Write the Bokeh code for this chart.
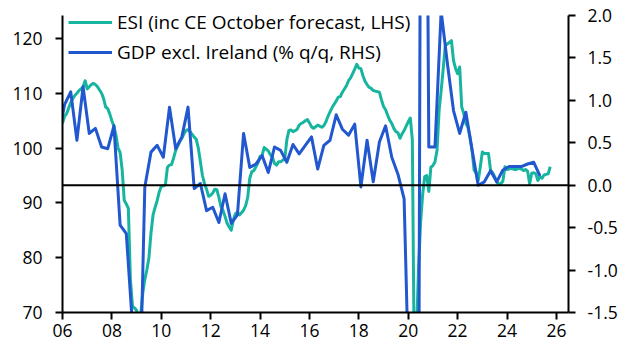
from bokeh.plotting import figure
from bokeh.models import (Range1d, LinearAxis, FixedTicker, Span, Legend,
                          LegendItem, NumeralTickFormatter, ColumnDataSource)
from bokeh.embed import file_html
from bokeh.resources import INLINE

# ---------------- data ----------------
# Economic Sentiment Indicator, monthly from Jan 2006 to Oct 2025 (LHS)
esi = [
    104.5, 105.8, 106.3, 107.3, 108.3, 109.0, 109.6, 110.0, 110.5, 110.8, 111.2, 112.3,  # 2006
    110.8, 111.2, 111.6, 111.8, 111.6, 111.2, 110.6, 110.0, 109.0, 107.5, 107.2, 106.2,  # 2007
    105.0, 104.0, 102.3, 100.0, 99.2, 96.0, 90.5, 89.8, 89.0, 76.0, 71.2, 70.8,          # 2008
    70.4, 69.0, 69.6, 73.5, 76.0, 77.8, 80.0, 84.5, 87.8, 89.2, 90.4, 92.0,              # 2009
    93.0, 93.1, 93.3, 96.5, 96.9, 97.0, 98.2, 99.6, 100.4, 101.2, 101.8, 102.6,          # 2010
    103.2, 103.4, 103.0, 102.5, 102.0, 101.6, 100.0, 97.5, 95.0, 93.5, 92.5, 91.2,       # 2011
    91.4, 91.8, 92.5, 92.4, 91.0, 89.3, 88.6, 87.5, 86.3, 85.6, 85.0, 86.9,              # 2012
    88.0, 88.3, 87.8, 88.2, 88.7, 89.5, 91.0, 94.5, 95.7, 95.9, 96.6, 97.3,              # 2013
    98.5, 98.7, 100.1, 99.8, 99.5, 98.8, 98.4, 97.2, 96.9, 97.5, 97.5, 97.8,             # 2014
    98.0, 101.5, 103.2, 103.3, 103.0, 103.2, 103.4, 104.2, 104.5, 104.7, 105.0, 105.2,   # 2015
    104.6, 103.9, 103.6, 103.9, 104.2, 104.0, 103.8, 104.1, 104.8, 105.8, 106.6, 107.4,  # 2016
    108.0, 108.6, 109.3, 109.4, 110.2, 110.8, 111.4, 112.3, 112.8, 113.6, 114.4, 115.3,  # 2017
    114.6, 114.5, 113.2, 112.2, 111.6, 111.1, 110.9, 110.5, 110.4, 110.3, 110.2, 108.8,  # 2018
    107.6, 107.0, 106.0, 105.1, 104.5, 103.6, 103.0, 102.8, 101.8, 102.6, 103.2, 104.0,  # 2019
    104.8, 105.5, 101.5, 58.0, 66.0, 78.0, 86.3, 91.5, 94.8, 95.0, 92.1, 96.5,           # 2020
    96.8, 97.5, 99.6, 106.9, 110.5, 114.5, 118.7, 119.0, 119.3, 119.6, 116.0, 114.5,     # 2021
    113.6, 114.8, 107.5, 106.3, 104.5, 103.8, 102.0, 99.6, 96.0, 95.5, 94.1, 96.5,       # 2022
    99.3, 99.0, 99.0, 99.0, 96.0, 95.5, 94.8, 93.8, 93.5, 93.5, 94.0, 96.6,              # 2023
    96.1, 96.2, 96.3, 96.2, 96.1, 96.2, 96.3, 96.2, 95.9, 96.1, 95.8, 93.5,              # 2024
    95.4, 95.5, 95.3, 94.1, 94.8, 94.5, 95.1, 95.2, 95.3, 96.6,                          # 2025
]
esi_start_year = 2006.0  # January 2006

# GDP excluding Ireland, % q/q, quarterly from 2005 Q4 to 2025 Q2 (RHS)
gdp = [
    0.57,                       # 2005 Q4
    0.95, 1.10, 0.53, 1.16,     # 2006
    0.61, 0.67, 0.45, 0.43,     # 2007
    0.70, -0.47, -0.57, -1.65,  # 2008
    -3.10, -0.02, 0.39, 0.47,   # 2009
    0.33, 0.92, 0.43, 0.57,     # 2010
    0.92, -0.04, 0.02, -0.30,   # 2011
    -0.26, -0.44, -0.10, -0.45, # 2012
    -0.35, 0.61, 0.21, 0.25,    # 2013
    0.35, 0.15, 0.45, 0.41,     # 2014
    0.27, 0.48, 0.37, 0.47,     # 2015
    0.57, 0.19, 0.47, 0.53,     # 2016
    0.83, 0.66, 0.59, 0.72,     # 2017
    -0.02, 0.53, 0.04, 0.51,    # 2018
    0.70, 0.33, 0.13, -0.16,    # 2019
    -3.00, -11.50, 12.00, 0.45, # 2020
    0.45, 2.05, 1.44, 0.88,     # 2021
    0.61, 0.86, 0.42, 0.00,     # 2022
    0.04, 0.17, 0.04, 0.18,     # 2023
    0.22, 0.22, 0.22, 0.25,     # 2024
    0.27, 0.11,                 # 2025
]
gdp_start_year = 2005 + 10 / 12  # mid-month of 2005 Q4

x_ticks = [2006, 2008, 2010, 2012, 2014, 2016, 2018, 2020, 2022, 2024, 2026]
x_tick_labels = ["06", "08", "10", "12", "14", "16", "18", "20", "22", "24", "26"]
lhs_ticks = [70, 80, 90, 100, 110, 120]
rhs_ticks = [-1.5, -1.0, -0.5, 0.0, 0.5, 1.0, 1.5, 2.0]

series_names = ["ESI (inc CE October forecast, LHS)", "GDP excl. Ireland (% q/q, RHS)"]

# ---------------- build ----------------
esi_src = ColumnDataSource(dict(x=[esi_start_year + i / 12 for i in range(len(esi))], y=esi))
gdp_src = ColumnDataSource(dict(x=[gdp_start_year + j / 4 for j in range(len(gdp))], y=gdp))

TEAL = "#17b5a0"
BLUE = "#2157cf"
FONT = "Open Sans"
FS = "17.5px"
LEGEND_FS = "19px"

p = figure(width=632, height=354, output_backend="svg", toolbar_location=None,
           x_range=Range1d(2006, 2026.49), y_range=Range1d(70, 124.2),
           min_border_left=62, min_border_right=64, min_border_top=15, min_border_bottom=42)
p.extra_y_ranges = {"rhs": Range1d(-1.5, 2.0)}
p.outline_line_color = None
p.xgrid.visible = False
p.ygrid.visible = False
p.background_fill_color = "white"
p.border_fill_color = "white"

rhs_axis = LinearAxis(y_range_name="rhs")
p.add_layout(rhs_axis, "right")

p.xaxis.ticker = FixedTicker(ticks=x_ticks)
p.xaxis.major_label_overrides = {t: l for t, l in zip(x_ticks, x_tick_labels)}
p.yaxis[0].ticker = FixedTicker(ticks=lhs_ticks)
rhs_axis.ticker = FixedTicker(ticks=rhs_ticks)
rhs_axis.formatter = NumeralTickFormatter(format="0.0")

for ax in [p.xaxis[0], p.yaxis[0], rhs_axis]:
    ax.axis_line_color = "black"
    ax.axis_line_width = 2
    ax.major_tick_line_color = "black"
    ax.major_tick_line_width = 2
    ax.major_tick_out = 7
    ax.major_tick_in = 0
    ax.minor_tick_line_color = None
    ax.major_label_text_font = FONT
    ax.major_label_text_font_size = FS
    ax.major_label_text_color = "black"

p.yaxis[0].major_label_standoff = 13
rhs_axis.major_label_standoff = 12
p.xaxis[0].major_label_standoff = 4

zero = Span(location=0, dimension="width", y_range_name="rhs",
            line_color="black", line_width=2)
p.add_layout(zero)

r_esi = p.line("x", "y", source=esi_src, line_color=TEAL, line_width=3, line_join="round")
r_gdp = p.line("x", "y", source=gdp_src, line_color=BLUE, line_width=3, line_join="round",
               y_range_name="rhs")

legend = Legend(items=[LegendItem(label=series_names[0], renderers=[r_esi]),
                       LegendItem(label=series_names[1], renderers=[r_gdp])],
                location=(6, 247), padding=0, margin=0, spacing=4,
                glyph_width=44, glyph_height=20, label_standoff=5, label_height=20,
                label_text_font=FONT, label_text_font_size=LEGEND_FS, label_text_color="black",
                background_fill_alpha=0, border_line_alpha=0)
p.add_layout(legend, "center")

open("out.html", "w").write(file_html(p, INLINE))
